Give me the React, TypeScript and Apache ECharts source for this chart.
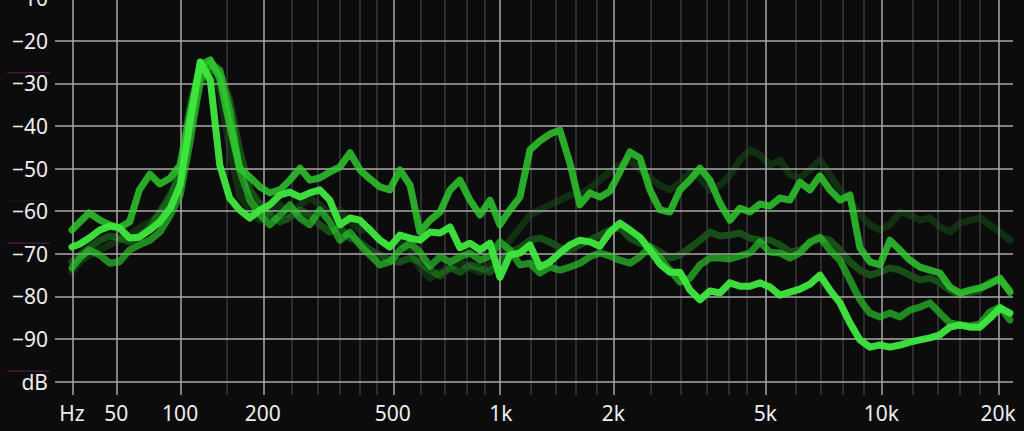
import React, { useEffect, useRef } from "react";
import * as echarts from "echarts";

// Frequency bins (Hz) shared by every trace
const FREQS = [
  25, 29, 34, 40, 46, 52, 59, 66, 74, 82,
  91, 100, 110, 120, 131, 142, 154, 167, 181, 196,
  211, 228, 245, 264, 283, 304, 326, 350, 375, 401,
  429, 459, 490, 524, 560, 597, 637, 680, 725, 772,
  823, 877, 934, 994, 1058, 1126, 1199, 1275, 1356, 1442,
  1534, 1631, 1734, 1843, 1959, 2082, 2213, 2351, 2498, 2654,
  2819, 2995, 3181, 3378, 3588, 3810, 4046, 4296, 4562, 4843,
  5142, 5459, 5795, 6152, 6531, 6932, 7358, 7810, 8290, 8798,
  9338, 9911, 10519, 11163, 11847, 12573, 13343, 14159, 15026, 15946,
  16920, 17955, 19054, 20220, 21454,
];

// Traces (dB)
const TRACE_A = [
  -64.4, -62.5, -60.4, -62.1, -63.2, -63.9, -62.5, -55.0, -51.3, -53.6,
  -52.2, -49.2, -36.3, -25.7, -24.5, -28.8, -39.8, -49.9, -52.0, -54.3,
  -55.7, -55.0, -52.7, -49.9, -52.7, -52.2, -50.8, -49.6, -46.3, -50.3,
  -52.4, -54.3, -55.0, -50.3, -53.9, -64.9, -62.1, -60.2, -55.0, -52.7,
  -57.4, -60.9, -57.4, -63.2, -59.7, -56.7, -45.6, -43.5, -41.9, -41.0,
  -48.7, -58.5, -55.7, -56.7, -55.3, -50.8, -46.1, -47.5, -55.0, -59.7,
  -60.2, -55.0, -52.7, -49.9, -52.7, -58.1, -62.1, -59.3, -60.2, -58.3,
  -58.8, -56.9, -57.4, -53.2, -55.0, -51.7, -55.0, -57.4, -56.2, -68.6,
  -71.9, -72.6, -66.8, -69.1, -71.5, -73.1, -73.8, -74.5, -77.8, -79.2,
  -78.5, -78.0, -77.1, -75.7, -79.0,
];
const TRACE_B = [
  -68.4, -67.7, -66.3, -64.4, -63.5, -63.9, -66.3, -66.1, -64.4, -62.5,
  -59.3, -53.9, -38.6, -25.0, -29.2, -49.2, -56.9, -59.7, -61.6, -59.7,
  -58.5, -56.2, -55.5, -56.7, -55.7, -55.0, -57.4, -63.2, -61.6, -62.1,
  -64.4, -66.8, -68.4, -65.6, -66.3, -66.8, -64.9, -65.1, -63.7, -68.6,
  -67.5, -69.1, -67.5, -75.5, -70.3, -69.8, -67.9, -73.1, -71.9, -69.8,
  -67.9, -66.8, -67.2, -68.2, -64.9, -62.8, -64.4, -66.1, -69.1, -72.4,
  -74.3, -74.3, -78.5, -80.8, -78.7, -79.2, -76.8, -77.6, -77.6, -76.8,
  -77.8, -79.7, -79.0, -78.3, -77.1, -75.0, -78.5, -81.5, -86.2, -90.2,
  -91.9, -91.4, -91.9, -91.4, -90.7, -90.2, -89.7, -89.0, -87.2, -86.7,
  -87.2, -87.2, -85.1, -82.7, -83.9,
];
const TRACE_C = [
  -73.3, -71.0, -69.1, -70.3, -72.2, -71.9, -69.1, -67.9, -66.8, -64.9,
  -60.9, -56.2, -43.3, -29.2, -25.2, -26.9, -36.3, -50.3, -57.4, -60.9,
  -63.2, -60.9, -58.5, -61.6, -63.2, -59.7, -62.5, -66.8, -64.9, -67.9,
  -70.3, -72.6, -71.9, -69.1, -67.5, -69.6, -72.9, -70.7, -71.9, -70.7,
  -69.8, -71.5, -70.5, -67.2, -69.1, -72.6, -72.2, -74.5, -73.1, -73.8,
  -73.1, -72.2, -70.7, -69.8, -70.5, -71.5, -72.2, -70.7, -68.4, -71.0,
  -73.8, -76.6, -75.7, -72.6, -71.0, -71.0, -71.2, -70.5, -69.8, -67.2,
  -69.6, -69.8, -71.0, -69.8, -67.2, -66.1, -69.1, -71.5, -76.1, -80.8,
  -83.9, -84.8, -83.9, -84.8, -83.2, -82.5, -81.5, -83.9, -86.2, -86.7,
  -86.9, -86.5, -83.6, -82.5, -85.5,
];
const TRACE_D = [
  -74.3, -71.9, -70.3, -69.1, -67.9, -66.8, -65.6, -63.9, -62.5, -60.9,
  -57.4, -50.3, -33.9, -26.9, -25.7, -31.6, -45.6, -56.2, -59.7, -62.1,
  -60.2, -58.5, -60.9, -58.5, -56.9, -58.5, -60.9, -59.7, -62.5, -64.4,
  -63.9, -66.8, -67.9, -67.2, -69.1, -73.3, -75.7, -74.3, -73.3, -71.9,
  -73.3, -74.3, -72.6, -71.0, -66.8, -63.9, -60.9, -59.7, -58.5, -57.4,
  -56.2, -56.2, -54.6, -52.7, -50.8, -49.2, -48.0, -50.3, -52.2, -53.9,
  -55.0, -53.4, -50.8, -52.2, -55.0, -53.9, -51.5, -48.0, -45.6, -46.8,
  -49.2, -48.0, -51.5, -52.2, -50.3, -48.0, -51.5, -55.0, -57.4, -60.9,
  -63.2, -64.4, -63.2, -60.2, -60.9, -62.1, -61.6, -63.7, -64.9, -62.8,
  -62.1, -61.6, -63.2, -64.9, -66.8,
];
const TRACE_E = [
  -71.9, -70.3, -68.6, -66.8, -65.8, -66.3, -67.2, -65.8, -63.9, -60.2,
  -56.2, -51.5, -41.0, -30.4, -26.9, -27.3, -33.9, -45.6, -55.0, -58.5,
  -60.9, -62.5, -61.6, -59.7, -60.9, -63.2, -64.9, -63.9, -66.3, -67.2,
  -69.1, -70.3, -71.5, -71.9, -71.0, -71.9, -73.8, -75.2, -73.3, -74.3,
  -72.6, -73.3, -74.3, -71.9, -69.6, -68.6, -66.8, -66.3, -67.2, -68.6,
  -69.1, -67.9, -66.8, -65.6, -64.4, -63.9, -66.3, -67.5, -68.2, -69.6,
  -71.0, -70.3, -68.6, -66.8, -64.9, -65.8, -65.6, -65.1, -66.3, -66.8,
  -66.8, -67.9, -69.6, -69.1, -67.5, -66.3, -66.8, -69.1, -71.9, -73.8,
  -75.0, -74.3, -73.3, -73.8, -75.0, -76.1, -75.7, -76.8, -78.5, -79.7,
  -79.2, -78.5, -76.6, -76.1, -78.5,
];

// Axis ticks
const MAJOR_HZ = [25, 50, 100, 200, 500, 1000, 2000, 5000, 10000, 20000];
const MAJOR_LABELS = ["Hz", "50", "100", "200", "500", "1k", "2k", "5k", "10k", "20k"];
const MINOR_HZ = [
  150, 250, 300, 350, 400, 450, 600, 700, 800, 900,
  1200, 1400, 1600, 1800, 2500, 3000, 3500, 4000, 4500,
  6000, 7000, 8000, 9000, 12000, 14000, 16000, 18000,
];
const DB_TICKS = [-100, -90, -80, -70, -60, -50, -40, -30, -20, -10];
const HOLD_MARKS = [-27.5, -57.6, -67.5, -97.5];

const X_MIN_HZ = 17;
const X_MAX_HZ = 21850;
const Y_MIN = -103.12;
const Y_MAX = -10;

// frequency warp used by the analyzer display
const OFFSET_HZ = 58.7;
const warp = (f: number) => Math.log(f + OFFSET_HZ);

const TRACES = [
  { name: "D", values: TRACE_D, color: "rgba(40,190,40,0.2)" },
  { name: "E", values: TRACE_E, color: "rgba(42,200,42,0.36)" },
  { name: "C", values: TRACE_C, color: "rgba(44,200,44,0.68)" },
  { name: "A", values: TRACE_A, color: "rgba(48,205,48,0.82)" },
  { name: "B", values: TRACE_B, color: "rgba(62,232,62,0.95)" },
];

const FONT = "'Noto Sans', 'Open Sans', sans-serif";

export default function App() {
  const ref = useRef<HTMLDivElement>(null);

  useEffect(() => {
    if (!ref.current) return;
    const chart = echarts.init(ref.current, undefined, { renderer: "svg" });

    const majorLine = { color: "#a9a9a9", width: 1.5, type: "solid" };
    const minorLine = { color: "#3a3a3a", width: 1.5, type: "solid" };

    const gridLines = [
      ...MINOR_HZ.map((f) => ({ xAxis: warp(f), lineStyle: minorLine })),
      ...MAJOR_HZ.map((f) => ({ xAxis: warp(f), lineStyle: majorLine })),
      ...DB_TICKS.map((v) => ({ yAxis: v, lineStyle: majorLine })),
    ];

    const option: any = {
      animation: false,
      backgroundColor: "#0c0c0c",
      grid: {
        left: 55,
        right: 11,
        top: -1.9,
        bottom: 36,
        containLabel: false,
        outerBoundsMode: "none",
      },
      xAxis: {
        type: "value",
        min: warp(X_MIN_HZ),
        max: warp(X_MAX_HZ),
        axisLine: { show: false },
        axisTick: { show: false },
        splitLine: { show: false },
        axisLabel: {
          customValues: MAJOR_HZ.map(warp),
          formatter: (v: number) => {
            let best = 0;
            let bd = Infinity;
            MAJOR_HZ.forEach((f, i) => {
              const d = Math.abs(warp(f) - v);
              if (d < bd) {
                bd = d;
                best = i;
              }
            });
            return MAJOR_LABELS[best];
          },
          color: "#eeeeee",
          fontSize: 21,
          fontFamily: FONT,
          margin: 7,
        },
      },
      yAxis: {
        type: "value",
        min: Y_MIN,
        max: Y_MAX,
        axisLine: { show: false },
        axisTick: { show: false },
        splitLine: { show: false },
        axisLabel: {
          customValues: DB_TICKS,
          formatter: (v: number) => (Math.round(v) === -100 ? "dB" : "\u2212" + Math.abs(Math.round(v))),
          color: "#eeeeee",
          fontSize: 21,
          fontFamily: FONT,
          margin: 7,
        },
      },
      series: [
        {
          type: "line",
          name: "grid",
          z: 1,
          silent: true,
          showSymbol: false,
          symbol: "none",
          data: [[warp(X_MIN_HZ), Y_MIN]],
          lineStyle: { opacity: 0 },
          markLine: {
            silent: true,
            symbol: ["none", "none"],
            label: { show: false },
            emphasis: { disabled: true },
            animation: false,
            data: gridLines,
          },
        },
        ...TRACES.map((t, k) => ({
          type: "line",
          name: t.name,
          z: 3 + k,
          silent: true,
          showSymbol: false,
          symbol: "none",
          data: FREQS.map((f, i) => [warp(f), t.values[i]]),
          lineStyle: { width: 7, color: t.color, cap: "round", join: "round" },
          emphasis: { disabled: true },
        })),
      ],
    };

    chart.setOption(option);

    const holdY = HOLD_MARKS.map((v) => chart.convertToPixel({ yAxisIndex: 0 }, v) as number);
    chart.setOption({
      graphic: holdY.map((y, i) => ({
        type: "line",
        shape: { x1: 7, y1: y, x2: 50, y2: y },
        style: { stroke: i === 1 ? "#2a0f28" : "#4d1748", lineWidth: 1.2 },
        silent: true,
      })),
    });

    return () => chart.dispose();
  }, []);

  return (
    <div
      ref={ref}
      style={{ position: "fixed", left: 0, top: 0, width: 1024, height: 431 }}
    />
  );
}
